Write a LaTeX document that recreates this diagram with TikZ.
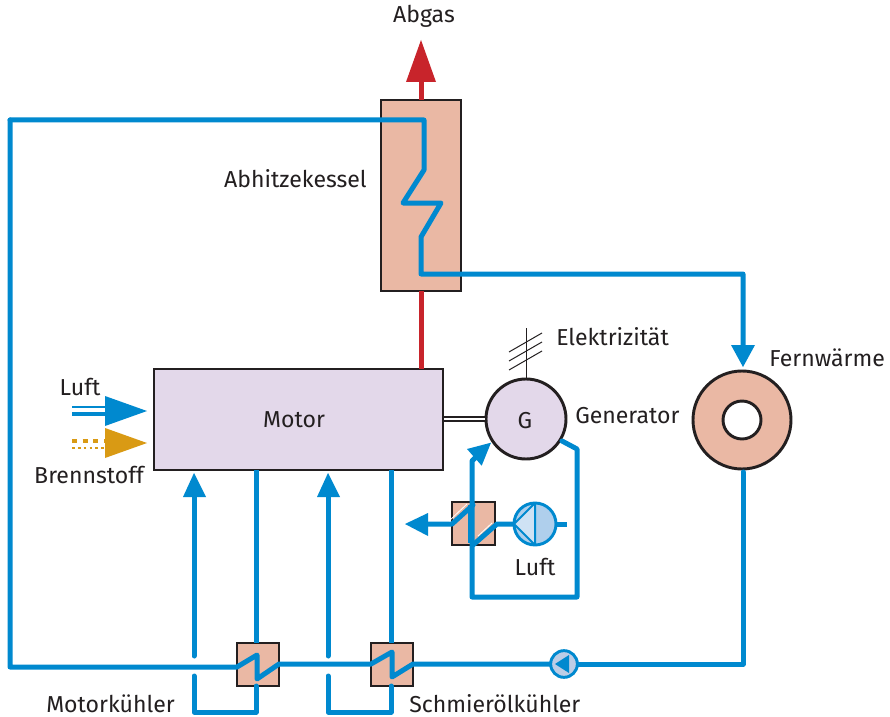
\documentclass[tikz,border=0pt]{standalone}
\usepackage{fontspec}
\usetikzlibrary{calc}
\setmainfont{Fira Sans}
\definecolor{blu}{HTML}{0089CF}
\definecolor{rd}{HTML}{C8242B}
\definecolor{org}{HTML}{D99A14}
\definecolor{salm}{HTML}{EAB8A4}
\definecolor{lil}{HTML}{E3D8EA}
\definecolor{dk}{HTML}{231F20}
\definecolor{lblu}{HTML}{AFCFEC}
\definecolor{lblb}{HTML}{BCCDE6}
\tikzset{
 pxbox/.style={draw=dk,line width=2.2pt,inner sep=0pt,outer sep=0pt,rectangle},
 lab/.style={text=dk,font=\fontsize{17.3}{20}\selectfont,inner sep=0pt},
 pipe/.style={draw=blu,line width=3.75pt,line join=round,line cap=round},
 pipeb/.style={draw=blu,line width=3.75pt,line join=round,line cap=butt},
 thinwhite/.style={draw=white,line width=0.6pt},
 rdline/.style={draw=rd,line width=3.75pt},
}
\begin{document}
\begin{tikzpicture}[x=0.75pt,y=-0.75pt]
\useasboundingbox[fill=white] (0,0) rectangle (890,717);
% nodes
\node[pxbox,fill=salm,minimum width=60pt,minimum height=143.25pt] (kessel) at (421,195.5) {};
\node[pxbox,fill=lil,minimum width=216.75pt,minimum height=75.75pt] (motor) at (298.5,419.5) {};
\node[pxbox,fill=salm,minimum width=31.5pt,minimum height=32.25pt] (hxa) at (258,664.5) {};
\node[pxbox,fill=salm,minimum width=31.5pt,minimum height=32.25pt] (hxb) at (392,664.5) {};
\node[pxbox,fill=salm,draw=dk,line width=1.6pt,minimum width=32pt,minimum height=32.25pt] (hxc) at (473.5,523.5) {};
\node[circle,draw=dk,fill=lil,line width=2.2pt,minimum size=60pt,inner sep=0pt,outer sep=0pt] (gen) at (526,419) {};
\node[circle,draw=dk,fill=salm,line width=2.2pt,minimum size=73.5pt,inner sep=0pt,outer sep=0pt] (fern) at (742,420) {};
\node[circle,draw=dk,fill=white,line width=2.2pt,minimum size=28.5pt,inner sep=0pt,outer sep=0pt] (fernhole) at (742,420) {};
% labels
\node[lab] (tabgas) at (424,16) {Abgas};
\node[lab,anchor=east] (tkessel) at (367,179) {Abhitzekessel};
\node[lab] (tmotor) at (294,420) {Motor};
\node[lab] (tluft) at (80,387) {Luft};
\node[lab] (tbrenn) at (89,475) {Brennstoff};
\node[lab,anchor=west] (telek) at (556,337) {Elektrizität};
\node[lab,anchor=west] (tgen) at (575,416) {Generator};
\node[lab,anchor=west] (tfern) at (769,358) {Fernwärme};
\node[lab] (tg) at (525,421) {G};
\node[lab] (tluftb) at (535,567) {Luft};
\node[lab,anchor=west] (tmk) at (46,704) {Motorkühler};
\node[lab,anchor=west] (tsk) at (409,704) {Schmierölkühler};
% exhaust
\coordinate (abgasbase) at (421,82);
\coordinate (abgastip) at (421,40);
\draw[rdline] (kessel.north) -- (abgasbase);
\draw[rdline] (motor.north -| kessel.south) -- (kessel.south);
\fill[rd] (abgastip) -- (436,82) -- (406,82) -- cycle;
% kessel coil and district heating
\coordinate (fernin) at (743,350);
\draw[pipe] (10,120) -- (424,120) -- (424,170) -- (403,203) -- (441,203) -- (421,237) -- (421,274) -- (743,274) -- (fernin);
\fill[blu] (743,367) -- (755,345) -- (731,345) -- cycle;
% return
\coordinate (pumpb) at (564,664);
\draw[pipe] (743,472) -- (743,664) -- (pumpb);
\draw[pipe] (pumpb) -- (hxb.east |- 0,664) -- (392,677) -- (392,652) -- (hxb.west |- 0,664) -- (hxa.east |- 0,664) -- (257,679) -- (257,655) -- (237,667) -- (10,667) -- (10,120);
% motor cooling loops
\coordinate (arra) at (194,497);
\coordinate (arrb) at (328,497);
\draw[pipeb] (motor.south -| 256,0) -- (hxa.north -| 256,0);
\draw[pipeb] (motor.south -| 391,0) -- (hxb.north -| 391,0);
\draw[pipe] (hxa.south -| 256,0) -- (256,712) -- (194,712) -- (194,676);
\draw[pipe] (194,656) -- (arra);
\draw[pipe] (hxb.south -| 391,0) -- (391,712) -- (328,712) -- (328,676);
\draw[pipe] (328,656) -- (arrb);
\fill[blu] (194,473) -- (206,497) -- (183,497) -- cycle;
\fill[blu] (328,473) -- (340,497) -- (317,497) -- cycle;
% air and fuel
\coordinate (luftb) at (105,411);
\draw[blu,line width=1.1pt] (72,407) -- (luftb |- 0,407);
\draw[blu,line width=3pt] (72,414) -- (luftb |- 0,414);
\fill[blu] (147,411) -- (105,426) -- (105,396) -- cycle;
\draw[org,line width=3.4pt,dash pattern=on 3.8pt off 4.2pt] (72,441) -- (105,441);
\draw[org,line width=1.6pt,dash pattern=on 2pt off 2.4pt] (72,448) -- (105,448);
\fill[org] (147,443) -- (105,458) -- (105,428) -- cycle;
% shaft
\draw[dk,line width=5pt] (motor.east |- gen.west) -- (gen.west);
\draw[white,line width=2pt] ($(motor.east |- gen.west)+(1,0)$) -- ($(gen.west)+(-1,0)$);
% electricity
\coordinate (eltop) at (526,328);
\draw[dk,line width=0.75pt] (gen.north) -- (eltop);
\draw[dk,line width=0.75pt] (509,352) -- (542,333) (509,361) -- (542,342) (509,370) -- (542,351);
% generator cooling
\coordinate (gout) at (562,441);
\draw[pipe] (gout) -- (577,449) -- (577,597) -- (472,597) -- (472,461) -- (478,455);
\fill[blu] (491,442.7) -- (481.7,465.7) -- (467,449) -- cycle;
% air cooler
\coordinate (lleft) at (428,524);
\draw[pipe] (lleft) -- (452,524) -- (473,505);
\fill[blu] (405,524) -- (428,513) -- (428,536) -- cycle;
\draw[pipe] (473,545) -- (497,524) -- (514,524);
\draw[blu,line width=0.8pt] (469,505) -- (469,543);
\draw[thinwhite] (449,521) -- (467,504);
\draw[thinwhite] (478,536) -- (492,523);
% pump air
\node[circle,draw=blu,fill=lblu,line width=2.2pt,minimum size=31.5pt,inner sep=0pt,outer sep=0pt] (pumpa) at (535,524) {};
\draw[blu,line width=1.5pt,line join=round,fill=lblu!60!white] (pumpa.north) -- (pumpa.west) -- (pumpa.south) -- cycle;
\draw[pipeb] (pumpa.east) -- (567,524);
% pump return
\node[circle,draw=blu,fill=lblb,line width=2.2pt,minimum size=20pt,inner sep=0pt,outer sep=0pt] (pumpc) at (pumpb) {};
\fill[blu] (555,664) -- (569,655) -- (569,673) -- cycle;
\end{tikzpicture}
\end{document}
